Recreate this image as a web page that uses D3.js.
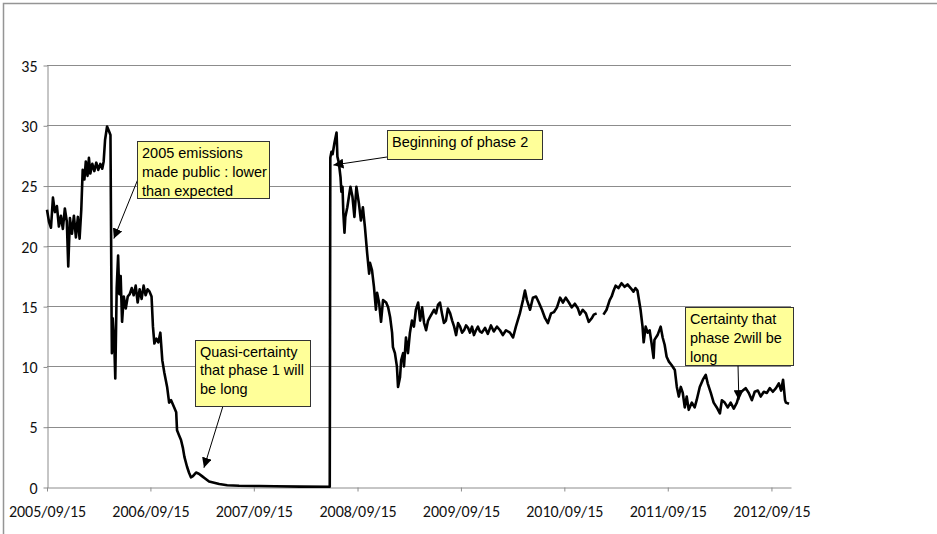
<!DOCTYPE html>
<html>
<head>
<meta charset="utf-8">
<script src="https://cdn.jsdelivr.net/npm/d3@7"></script>
<style>
  body { margin: 0; background: #fff; }
  .tick text { font-family: Carlito, Lato, "Liberation Sans", sans-serif; font-size: 16px; fill: #111; }
  .note text { font-family: "Liberation Sans", Arial, sans-serif; font-size: 14.5px; fill: #000; }
</style>
</head>
<body>
<div id="chart"></div>
<script>
// CO2 price series (null = gap in the data)
var dates = [
  "2005-09-15","2005-09-22","2005-09-29","2005-10-06","2005-10-13","2005-10-20","2005-10-27","2005-11-03",
  "2005-11-10","2005-11-17","2005-11-24","2005-11-29","2005-12-05","2005-12-12","2005-12-19","2005-12-26",
  "2006-01-02","2006-01-08","2006-01-14","2006-01-19","2006-01-25","2006-01-30","2006-02-05","2006-02-10",
  "2006-02-15","2006-02-22","2006-03-01","2006-03-08","2006-03-15","2006-03-22","2006-03-29","2006-04-03",
  "2006-04-08","2006-04-15","2006-04-22","2006-04-27","2006-05-01","2006-05-02","2006-05-05","2006-05-11",
  "2006-05-14","2006-05-19","2006-05-24","2006-05-28","2006-06-02","2006-06-07","2006-06-13","2006-06-20",
  "2006-06-27","2006-07-04","2006-07-11","2006-07-18","2006-07-25","2006-08-01","2006-08-08","2006-08-15",
  "2006-08-22","2006-08-29","2006-09-05","2006-09-12","2006-09-19","2006-09-24","2006-09-29","2006-10-06",
  "2006-10-13","2006-10-20","2006-10-27","2006-11-03","2006-11-08","2006-11-13","2006-11-20","2006-11-27",
  "2006-12-08","2006-12-15","2006-12-18","2006-12-25","2007-01-01","2007-01-08","2007-01-13","2007-01-22",
  "2007-01-29","2007-02-05","2007-02-12","2007-02-23","2007-03-05","2007-03-16","2007-03-27","2007-04-10",
  "2007-04-28","2007-05-16","2007-06-13","2007-07-25","2007-10-04","2007-11-28","2008-02-24","2008-06-09",
  "2008-06-11","2008-06-15","2008-06-19","2008-06-26","2008-07-03","2008-07-06","2008-07-11","2008-07-17",
  "2008-07-20","2008-07-24","2008-07-27","2008-07-31","2008-08-03","2008-08-10","2008-08-17","2008-08-21",
  "2008-08-28","2008-09-04","2008-09-11","2008-09-20","2008-09-27","2008-10-04","2008-10-11","2008-10-19",
  "2008-10-26","2008-10-29","2008-11-05","2008-11-12","2008-11-19","2008-11-23","2008-11-30","2008-12-07",
  "2008-12-14","2008-12-25","2009-01-01","2009-01-08","2009-01-15","2009-01-18","2009-01-25","2009-02-01",
  "2009-02-05","2009-02-12","2009-02-16","2009-02-23","2009-02-26","2009-03-05","2009-03-12","2009-03-19",
  "2009-03-26","2009-04-02","2009-04-09","2009-04-17","2009-04-24","2009-05-01","2009-05-08","2009-05-15",
  "2009-05-22","2009-05-29","2009-06-05","2009-06-12","2009-06-19","2009-06-26","2009-07-03","2009-07-10",
  "2009-07-17","2009-07-24","2009-07-31","2009-08-08","2009-08-15","2009-08-22","2009-08-29","2009-09-05",
  "2009-09-12","2009-09-19","2009-09-26","2009-10-03","2009-10-10","2009-10-17","2009-10-24","2009-10-31",
  "2009-11-07","2009-11-14","2009-11-21","2009-11-28","2009-12-09","2009-12-19","2009-12-30","2010-01-09",
  "2010-01-20","2010-01-31","2010-02-10","2010-02-21","2010-03-07","2010-03-18","2010-03-28","2010-04-11",
  "2010-04-22","2010-04-29","2010-05-06","2010-05-17","2010-05-27","2010-06-07","2010-06-17","2010-06-28",
  "2010-07-09","2010-07-19","2010-07-30","2010-08-09","2010-08-20","2010-08-31","2010-09-10","2010-09-20",
  "2010-10-01","2010-10-11","2010-10-22","2010-11-02","2010-11-09","2010-11-19","2010-11-30","2010-12-10",
  "2010-12-21","2010-12-28","2011-01-07","2011-01-17","2011-01-31","2011-02-11","2011-02-22","2011-03-01",
  "2011-03-08","2011-03-15","2011-03-25","2011-04-05","2011-04-16","2011-04-26","2011-05-07","2011-05-17",
  "2011-05-24","2011-05-31","2011-06-11","2011-06-18","2011-06-22","2011-06-29","2011-07-06","2011-07-13",
  "2011-07-20","2011-07-27","2011-07-30","2011-08-10","2011-08-21","2011-08-28","2011-09-04","2011-09-11",
  "2011-09-19","2011-09-29","2011-10-10","2011-10-17","2011-10-24","2011-10-31","2011-11-07","2011-11-14",
  "2011-11-21","2011-11-28","2011-12-09","2011-12-19","2011-12-26","2012-01-06","2012-01-17","2012-01-27",
  "2012-02-03","2012-02-14","2012-02-24","2012-03-06","2012-03-17","2012-03-24","2012-04-03","2012-04-14",
  "2012-04-24","2012-05-05","2012-05-16","2012-05-26","2012-06-06","2012-06-16","2012-06-27","2012-07-08",
  "2012-07-18","2012-07-29","2012-08-08","2012-08-19","2012-08-30","2012-09-09","2012-09-20","2012-10-01",
  "2012-10-11","2012-10-19","2012-10-26","2012-11-02","2012-11-05","2012-11-16"
];
var prices = [
  23.0,22.0,21.5,24.0,22.8,23.3,21.6,22.5,
  21.4,23.1,22.0,18.3,22.3,21.0,22.5,20.7,
  22.4,20.6,23.0,26.3,25.5,27.0,25.8,27.3,
  26.0,26.8,26.2,26.9,26.3,26.8,26.4,27.0,
  28.8,29.9,29.5,29.2,14.0,11.1,14.0,11.5,
  9.0,16.5,19.2,16.0,17.5,13.7,15.8,14.8,
  15.8,16.0,16.5,15.9,16.7,15.3,16.4,15.6,
  16.7,15.9,16.4,16.2,15.8,13.3,11.9,12.3,
  12.0,12.8,10.5,9.5,8.9,8.3,7.0,7.2,
  6.6,6.2,4.7,4.3,3.9,3.2,2.5,1.7,
  1.2,0.8,0.9,1.2,1.1,0.9,0.7,0.45,
  0.35,0.25,0.15,0.1,0.08,0.06,0.03,0.02,
  27.3,27.8,27.6,28.6,29.4,27.4,26.9,25.7,
  24.5,24.9,22.7,21.1,22.4,23.2,24.3,24.9,
  24.1,22.4,24.9,23.5,22.1,23.2,21.6,19.4,
  17.7,18.6,18.0,16.6,14.7,16.1,15.3,13.7,
  15.5,15.3,14.9,14.1,12.8,11.6,11.1,10.0,
  8.3,9.1,10.5,11.1,10.0,12.4,11.1,12.8,
  13.8,13.3,14.7,15.3,13.8,14.9,13.6,13.0,
  13.8,14.1,14.4,14.7,14.4,15.1,15.3,14.4,
  13.6,13.8,14.8,14.4,13.8,13.3,12.6,13.6,
  13.3,12.8,13.0,13.4,13.2,12.8,13.3,12.6,
  13.0,13.3,12.9,12.8,13.2,12.7,13.4,12.9,
  13.3,13.0,12.6,13.0,12.8,12.4,13.3,14.4,
  15.5,16.3,15.5,14.7,15.7,15.8,15.3,14.7,
  14.0,13.6,14.4,14.5,14.9,15.7,15.3,15.7,
  15.3,14.9,15.2,14.8,14.3,14.7,14.4,13.7,
  14.0,14.3,14.4,null,14.3,14.7,15.5,15.8,
  16.3,16.7,16.5,16.9,16.6,16.8,16.5,16.2,
  16.5,16.3,14.7,13.3,12.0,13.3,12.8,13.0,
  11.9,10.7,12.2,12.6,13.3,12.4,11.8,10.8,
  10.4,10.1,9.7,8.3,7.5,8.3,7.8,6.6,
  7.5,6.4,7.0,6.6,7.2,8.3,8.9,9.3,
  8.6,7.8,7.0,6.6,6.1,7.2,7.0,6.6,
  7.0,6.5,7.0,7.8,8.0,8.2,7.8,7.2,
  7.9,8.0,7.5,7.9,7.8,8.2,7.9,8.2,
  8.6,8.0,8.9,7.2,7.0,6.9
];

var yTicks = [0, 5, 10, 15, 20, 25, 30, 35];
var xTicks = ["2005-09-15","2006-09-15","2007-09-15","2008-09-15","2009-09-15","2010-09-15","2011-09-15","2012-09-15"];

// annotations: text lines + the point the arrow aims at
var noteText = [
  ["2005 emissions", "made public : lower", "than expected"],
  ["Quasi-certainty", "that phase 1 will", "be long"],
  ["Beginning of phase 2"],
  ["Certainty that", "phase 2will be", "long"]
];
var noteDates = ["2006-05-09", "2007-03-23", "2008-06-22", "2012-05-23"];
var noteValues = [20.6, 1.6, 26.7, 7.2];

var w = 937, h = 534;
// plot area (don't call it "top": window.top is read-only)
var pl = 47, pr = 791, pt = 65, pb = 487;
var parse = d3.timeParse("%Y-%m-%d");
var fmt = d3.timeFormat("%Y/%m/%d");

var svg = d3.select("#chart").append("svg")
  .attr("width", w)
  .attr("height", h);

// outer chart frame (runs off the page on the right and bottom)
svg.append("rect")
  .attr("x", 3.5).attr("y", 3.5)
  .attr("width", 1200).attr("height", 800)
  .attr("fill", "none")
  .attr("stroke", "#959595")
  .attr("stroke-width", 1.5);

var x = d3.scaleTime()
  .domain([parse("2005-09-15"), parse("2012-11-23")])
  .range([pl, pr]);
var y = d3.scaleLinear()
  .domain([0, 35])
  .range([pb, pt]);

// gridlines
svg.append("g")
  .selectAll("line")
  .data(yTicks.slice(1))
  .enter().append("line")
  .attr("x1", pl).attr("x2", pr)
  .attr("y1", function(d) { return Math.round(y(d)) + 0.5; })
  .attr("y2", function(d) { return Math.round(y(d)) + 0.5; })
  .attr("stroke", "#8c8c8c")
  .attr("stroke-width", 1);

var yAxis = svg.append("g")
  .attr("transform", "translate(" + (pl + 0.5) + ",0.5)")
  .call(d3.axisLeft(y).tickValues(yTicks).tickSize(4).tickPadding(6).tickSizeOuter(0));

var xAxis = svg.append("g")
  .attr("transform", "translate(0," + (pb + 0.5) + ")")
  .call(d3.axisBottom(x).tickValues(xTicks.map(parse)).tickFormat(fmt)
    .tickSize(4).tickPadding(14).tickSizeOuter(0));

svg.selectAll(".domain, .tick line").attr("stroke", "#8c8c8c");
yAxis.selectAll(".tick text").attr("dy", "0.36em");

// price line
var pts = dates.map(function(d, i) { return { date: parse(d), v: prices[i] }; });
var line = d3.line()
  .defined(function(d) { return d.v !== null; })
  .x(function(d) { return x(d.date); })
  .y(function(d) { return y(d.v); });

svg.append("path")
  .datum(pts)
  .attr("d", line)
  .attr("fill", "none")
  .attr("stroke", "#000")
  .attr("stroke-width", 2.6)
  .attr("stroke-linejoin", "round");

// callouts
svg.append("defs").append("marker")
  .attr("id", "head")
  .attr("viewBox", "0 0 10 10")
  .attr("refX", 10).attr("refY", 5)
  .attr("markerWidth", 10).attr("markerHeight", 10)
  .attr("markerUnits", "userSpaceOnUse")
  .attr("orient", "auto")
  .append("path")
  .attr("d", "M0,0L10,5L0,10Z")
  .attr("fill", "#000");

var boxes = [
  { bx: 137, by: 141, bw: 132, bh: 57, from: [138, 179], lh: 19.3 },
  { bx: 195, by: 340, bw: 115, bh: 66, from: [223, 406], lh: 18.5 },
  { bx: 387, by: 130, bw: 155, bh: 29, from: [387, 157], lh: 19 },
  { bx: 685, by: 307, bw: 108, bh: 58, from: [738, 365], lh: 19.2 }
];

var notes = svg.selectAll("g.note")
  .data(noteText)
  .enter().append("g")
  .classed("note", true);

notes.append("line")
  .attr("x1", function(d, i) { return boxes[i].from[0]; })
  .attr("y1", function(d, i) { return boxes[i].from[1]; })
  .attr("x2", function(d, i) { return x(parse(noteDates[i])); })
  .attr("y2", function(d, i) { return y(noteValues[i]); })
  .attr("stroke", "#000")
  .attr("stroke-width", 1)
  .attr("marker-end", "url(#head)");

notes.append("rect")
  .attr("x", function(d, i) { return boxes[i].bx + 0.5; })
  .attr("y", function(d, i) { return boxes[i].by + 0.5; })
  .attr("width", function(d, i) { return boxes[i].bw; })
  .attr("height", function(d, i) { return boxes[i].bh; })
  .attr("fill", "#ffff99")
  .attr("stroke", "#333")
  .attr("stroke-width", 1);

notes.each(function(d, i) {
  var b = boxes[i];
  d3.select(this).selectAll("text")
    .data(d)
    .enter().append("text")
    .attr("x", b.bx + 5)
    .attr("y", function(t, j) { return b.by + 16.5 + j * b.lh; })
    .text(function(t) { return t; });
});
</script>
</body>
</html>
